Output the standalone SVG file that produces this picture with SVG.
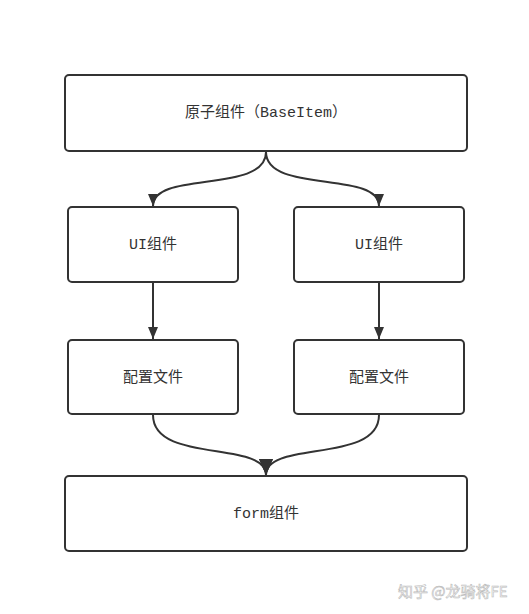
<svg xmlns="http://www.w3.org/2000/svg" width="529" height="614" viewBox="0 0 529 614">
<style>
.box{fill:#fff;stroke:#333;stroke-width:2}
.lbl{font-family:"Liberation Mono","Noto Sans CJK SC",monospace;font-size:15px;fill:#333;text-anchor:middle;dominant-baseline:central}
.edge{fill:none;stroke:#333;stroke-width:2}
.wm{font-family:"Noto Sans CJK SC",sans-serif;font-size:15px;fill:#fff;stroke:#bbb;stroke-width:0.6}
</style>
<defs>
<marker id="ah" viewBox="0 0 12 10" refX="12" refY="5" markerWidth="12" markerHeight="10" markerUnits="userSpaceOnUse" orient="auto">
<path d="M0,0 L12,5 L0,10 Z" fill="#333"/>
</marker>
<marker id="ahl" viewBox="0 0 16 14" refX="16" refY="7" markerWidth="16" markerHeight="14" markerUnits="userSpaceOnUse" orient="auto">
<path d="M0,0 L16,7 L0,14 Z" fill="#333"/>
</marker>
</defs>
<rect width="529" height="614" fill="#fff"/>
<g id="connectors">
<path class="edge" d="M266,152 C266,194 153,170 153,206" marker-end="url(#ah)"/>
<path class="edge" d="M266,152 C266,194 379,170 379,206" marker-end="url(#ah)"/>
<path class="edge" d="M153,283 L153,339" marker-end="url(#ah)"/>
<path class="edge" d="M379,283 L379,339" marker-end="url(#ah)"/>
<path class="edge" d="M153,415 C153,464 266,440 266,475" marker-end="url(#ahl)"/>
<path class="edge" d="M379,415 C379,464 266,440 266,475" marker-end="url(#ahl)"/>
</g>
<g id="n-base"><rect class="box" x="65" y="75" width="402" height="76" rx="4"/><text class="lbl" x="266" y="113">原子组件（BaseItem）</text></g>
<g id="n-ui1"><rect class="box" x="68" y="207" width="170" height="75" rx="4"/><text class="lbl" x="153" y="245">UI组件</text></g>
<g id="n-ui2"><rect class="box" x="294" y="207" width="170" height="75" rx="4"/><text class="lbl" x="379" y="245">UI组件</text></g>
<g id="n-cfg1"><rect class="box" x="68" y="340" width="170" height="74" rx="4"/><text class="lbl" x="153" y="378">配置文件</text></g>
<g id="n-cfg2"><rect class="box" x="294" y="340" width="170" height="74" rx="4"/><text class="lbl" x="379" y="378">配置文件</text></g>
<g id="n-form"><rect class="box" x="65" y="476" width="402" height="75" rx="4"/><text class="lbl" x="266" y="514">form组件</text></g>
<text class="wm" x="398" y="597">知乎 @龙骑将FE</text>
</svg>
